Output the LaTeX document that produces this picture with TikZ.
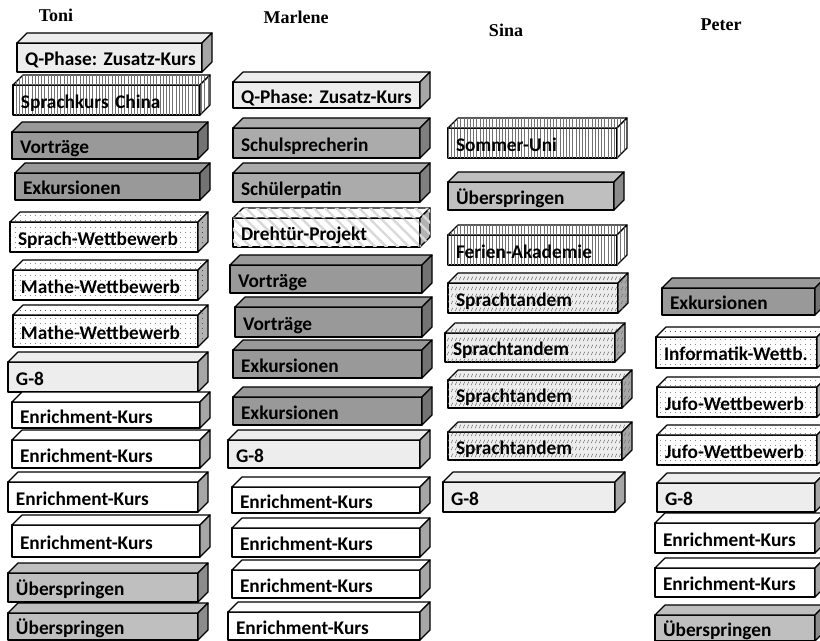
\documentclass[tikz,border=0pt]{standalone}
\usepackage{fontspec}
\setmainfont{Carlito}
\newfontfamily\kopfschrift{Liberation Serif}
\usetikzlibrary{patterns.meta}
\frenchspacing

\pgfdeclarepattern{
  name=Kurzstriche, type=uncolored,
  bottom left={\pgfpoint{0pt}{0pt}}, top right={\pgfpoint{2.6pt}{5.5pt}},
  tile size={\pgfpoint{2.6pt}{5.5pt}},
  code={\pgfsetlinewidth{0.45pt}
    \pgfpathmoveto{\pgfpoint{0.2pt}{0.8pt}}
    \pgfpathlineto{\pgfpoint{1.5pt}{3.4pt}}
    \pgfusepath{stroke}}
}

% quader: name, art, x1, y1, x2, y2, text
\newcommand{\kasten}[7]{%
  \node[front, #2, text width={(#5-#3)*0.75pt-12pt},
        minimum height={(#6-#4)*0.75pt}] (#1) at (#3,#4) {\mbox{#7}};
  \draw[rahmen, #2] (#1.north west) -- ++(10,-10) -- ++({#5-#3},0)
    -- (#1.north east) -- cycle;
  \draw[rahmen, #2 seite] (#1.north east) -- ++(10,-10) -- ++(0,{#6-#4})
    -- (#1.south east) -- cycle;
}

\begin{document}
\begin{tikzpicture}[
    x=0.75pt, y=-0.75pt,
    rahmen/.style={draw=black, line width=0.9pt, line join=round},
    front/.style={rahmen, anchor=north west, inner xsep=6pt, inner ysep=0pt,
                  outer sep=0pt, align=left, text height=13pt, text depth=0.6pt,
                  font=\fontsize{14.5}{16}\selectfont\bfseries},
    kopf/.style={font=\kopfschrift\fontsize{13.5}{15}\selectfont\bfseries},
    weiss/.style={fill=white},
    weiss seite/.style={fill=black!35},
    hell/.style={fill=black!7},
    hell seite/.style={fill=black!35},
    mittel/.style={fill=black!25},
    mittel seite/.style={fill=black!45},
    grau/.style={fill=black!33},
    grau seite/.style={fill=black!50},
    dunkel/.style={fill=black!40},
    dunkel seite/.style={fill=black!55},
    streifen/.style={fill=white, postaction={pattern={Lines[angle=90, distance=2.4pt, line width=0.6pt]}, pattern color=black!55}},
    streifen seite/.style={streifen},
    punkte/.style={fill=white, postaction={pattern={Dots[distance=4pt, radius=0.35pt]}, pattern color=black!80}},
    punkte seite/.style={fill=black!30, postaction={pattern={Dots[distance=4pt, radius=0.35pt]}, pattern color=black!80}},
    schraeg/.style={fill=white, postaction={pattern={Lines[angle=-45, distance=6pt, line width=1.8pt]}, pattern color=black!15}},
    schraeg seite/.style={fill=black!30, postaction={pattern={Lines[angle=-45, distance=6pt, line width=1.8pt]}, pattern color=black!15}},
    tandem/.style={fill=black!7, postaction={pattern=Kurzstriche, pattern color=black!55}},
    tandem seite/.style={fill=black!35, postaction={pattern=Kurzstriche, pattern color=black!55}}
]
\useasboundingbox (0,0) rectangle (820,641);
\fill[white] (0,0) rectangle (820,641);
\clip (0,0) rectangle (820,641);

\node[kopf] (toni) at (56,15) {Toni};
\node[kopf] (marlene) at (296,17) {Marlene};
\node[kopf] (sina) at (506,30) {Sina};
\node[kopf] (peter) at (721,25) {Peter};

% Toni
\kasten{t1}{hell}{17}{43}{202}{72}{Q-Phase: Zusatz-Kurs}
\kasten{t2}{streifen}{13}{85}{200}{115}{Sprachkurs China}
\kasten{t3}{dunkel}{12}{132}{198}{159}{Vorträge}
\kasten{t4}{dunkel}{15}{173}{200}{200}{Exkursionen}
\kasten{t5}{punkte}{10}{222}{198}{252}{Sprach-Wettbewerb}
\kasten{t6}{punkte}{13}{270}{198}{300}{Mathe-Wettbewerb}
\kasten{t7}{punkte}{13}{315}{198}{347}{Mathe-Wettbewerb}
\kasten{t8}{hell}{8}{362}{198}{392}{G-8}
\kasten{t9}{weiss}{12}{402}{200}{428}{Enrichment-Kurs}
\kasten{t10}{weiss}{12}{440}{200}{468}{Enrichment-Kurs}
\kasten{t11}{weiss}{8}{482}{198}{512}{Enrichment-Kurs}
\kasten{t12}{weiss}{12}{525}{200}{557}{Enrichment-Kurs}
\kasten{t13}{mittel}{8}{573}{198}{602}{Überspringen}
\kasten{t14}{mittel}{8}{613}{198}{640}{Überspringen}

% Marlene
\kasten{m1}{hell}{233}{82}{420}{108}{Q-Phase: Zusatz-Kurs}
\kasten{m2}{grau}{233}{128}{420}{158}{Schulsprecherin}
\kasten{m3}{grau}{233}{173}{420}{202}{Schülerpatin}
\kasten{m4}{schraeg}{233}{218}{420}{247}{Drehtür-Projekt}
\kasten{m5}{dunkel}{230}{265}{422}{293}{Vorträge}
\kasten{m6}{dunkel}{235}{307}{422}{337}{Vorträge}
\kasten{m7}{dunkel}{233}{350}{422}{378}{Exkursionen}
\kasten{m8}{dunkel}{233}{397}{422}{425}{Exkursionen}
\kasten{m9}{hell}{228}{440}{420}{468}{G-8}
\kasten{m10}{weiss}{232}{487}{420}{513}{Enrichment-Kurs}
\kasten{m11}{weiss}{232}{528}{420}{557}{Enrichment-Kurs}
\kasten{m12}{weiss}{232}{570}{420}{598}{Enrichment-Kurs}
\kasten{m13}{weiss}{228}{612}{420}{640}{Enrichment-Kurs}

% Sina
\kasten{s1}{streifen}{448}{128}{617}{158}{Sommer-Uni}
\kasten{s2}{mittel}{448}{182}{614}{210}{Überspringen}
\kasten{s3}{streifen}{448}{235}{617}{265}{Ferien-Akademie}
\kasten{s4}{tandem}{448}{283}{618}{313}{Sprachtandem}
\kasten{s5}{tandem}{445}{333}{615}{362}{Sprachtandem}
\kasten{s6}{tandem}{448}{380}{622}{408}{Sprachtandem}
\kasten{s7}{tandem}{448}{432}{622}{460}{Sprachtandem}
\kasten{s8}{hell}{443}{482}{615}{512}{G-8}

% Peter
\kasten{p1}{dunkel}{662}{288}{815}{315}{Exkursionen}
\kasten{p2}{punkte}{656}{337}{817}{368}{Informatik-Wettb.}
\kasten{p3}{punkte}{657}{387}{817}{417}{Jufo-Wettbewerb}
\kasten{p4}{punkte}{657}{435}{817}{465}{Jufo-Wettbewerb}
\kasten{p5}{hell}{657}{483}{815}{512}{G-8}
\kasten{p6}{weiss}{655}{523}{815}{553}{Enrichment-Kurs}
\kasten{p7}{weiss}{655}{568}{815}{597}{Enrichment-Kurs}
\kasten{p8}{mittel}{655}{615}{815}{641}{Überspringen}
\end{tikzpicture}
\end{document}
